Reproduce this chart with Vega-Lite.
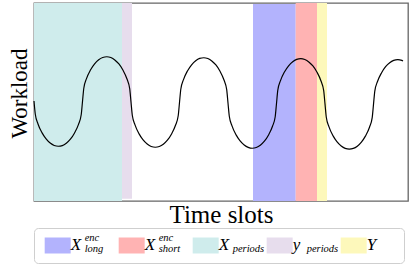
{
  "$schema": "https://vega.github.io/schema/vega-lite/v6.json",
  "padding": {"left": 7, "top": 2, "right": 2, "bottom": 0},
  "autosize": {"type": "pad"},
  "background": "white",
  "config": {
    "view": {"stroke": null},
    "font": "Liberation Serif",
    "axis": {"titleFont": "Liberation Serif", "titleFontWeight": "normal", "titleColor": "black", "labels": false, "ticks": false, "domain": false, "grid": false}
  },
  "spacing": -2,
  "vconcat": [
    {
      "width": 374,
      "height": 198,
      "view": {"stroke": "#666666", "strokeWidth": 1.3},
      "layer": [
        {
          "data": {"values": [
            {"key": "X_periods", "start": 0, "end": 88, "lo": -1, "hi": 1},
            {"key": "y_periods", "start": 88, "end": 98, "lo": -0.977, "hi": 1},
            {"key": "X_long", "start": 219, "end": 261.7, "lo": -1, "hi": 0.99},
            {"key": "X_short", "start": 261.7, "end": 283, "lo": -1, "hi": 1},
            {"key": "Y", "start": 283, "end": 293, "lo": -1, "hi": 1}
          ]},
          "mark": {"type": "rect", "opacity": 1},
          "encoding": {
            "x": {"field": "start", "type": "quantitative", "scale": {"domain": [0, 374], "nice": false, "zero": false}, "axis": {"title": "Time slots", "titleFontSize": 25, "titlePadding": 1}},
            "x2": {"field": "end"},
            "y": {"field": "lo", "type": "quantitative", "scale": {"domain": [-1, 1], "nice": false, "zero": false}, "axis": {"title": "Workload", "titleFontSize": 23, "titlePadding": 3, "titleY": 90}},
            "y2": {"field": "hi"},
            "color": {"field": "key", "type": "nominal", "legend": null,
              "scale": {"domain": ["X_long", "X_short", "X_periods", "y_periods", "Y"], "range": ["#b3b3fd", "#ffb3b3", "#cfecec", "#e7dded", "#fdf8bb"]}}
          }
        },
        {
          "data": {"values": [
            {"t": 0, "w": 0.010}, {"t": 1.3, "w": -0.124}, {"t": 4.0, "w": -0.222}, {"t": 8.1, "w": -0.312}, {"t": 12.1, "w": -0.373}, {"t": 16.2, "w": -0.415}, {"t": 20.2, "w": -0.439}, {"t": 24.3, "w": -0.447}, {"t": 28.3, "w": -0.440}, {"t": 32.3, "w": -0.416}, {"t": 36.4, "w": -0.376}, {"t": 40.4, "w": -0.315}, {"t": 44.5, "w": -0.226}, {"t": 47.2, "w": -0.129}, {"t": 48.5, "w": 0.005}, {"t": 49.8, "w": 0.139}, {"t": 52.5, "w": 0.236}, {"t": 56.6, "w": 0.326}, {"t": 60.6, "w": 0.386}, {"t": 64.7, "w": 0.427}, {"t": 68.7, "w": 0.450}, {"t": 72.8, "w": 0.457}, {"t": 76.8, "w": 0.449}, {"t": 80.8, "w": 0.425}, {"t": 84.9, "w": 0.384}, {"t": 88.9, "w": 0.323}, {"t": 93.0, "w": 0.232}, {"t": 95.7, "w": 0.135},
            {"t": 97.0, "w": 0.000}, {"t": 98.3, "w": -0.134}, {"t": 101.0, "w": -0.231}, {"t": 105.1, "w": -0.322}, {"t": 109.1, "w": -0.383}, {"t": 113.2, "w": -0.424}, {"t": 117.2, "w": -0.449}, {"t": 121.3, "w": -0.457}, {"t": 125.3, "w": -0.449}, {"t": 129.3, "w": -0.426}, {"t": 133.4, "w": -0.386}, {"t": 137.4, "w": -0.325}, {"t": 141.5, "w": -0.235}, {"t": 144.2, "w": -0.139}, {"t": 145.5, "w": -0.005}, {"t": 146.8, "w": 0.129}, {"t": 149.5, "w": 0.226}, {"t": 153.6, "w": 0.316}, {"t": 157.6, "w": 0.376}, {"t": 161.7, "w": 0.417}, {"t": 165.7, "w": 0.440}, {"t": 169.8, "w": 0.447}, {"t": 173.8, "w": 0.439}, {"t": 177.8, "w": 0.415}, {"t": 181.9, "w": 0.374}, {"t": 185.9, "w": 0.313}, {"t": 190.0, "w": 0.222}, {"t": 192.7, "w": 0.125},
            {"t": 194.0, "w": -0.010}, {"t": 195.3, "w": -0.144}, {"t": 198.0, "w": -0.241}, {"t": 202.1, "w": -0.332}, {"t": 206.1, "w": -0.393}, {"t": 210.2, "w": -0.434}, {"t": 214.2, "w": -0.458}, {"t": 218.3, "w": -0.467}, {"t": 222.3, "w": -0.459}, {"t": 226.3, "w": -0.436}, {"t": 230.4, "w": -0.396}, {"t": 234.4, "w": -0.335}, {"t": 238.5, "w": -0.245}, {"t": 241.2, "w": -0.149}, {"t": 242.5, "w": -0.015}, {"t": 243.8, "w": 0.120}, {"t": 246.5, "w": 0.216}, {"t": 250.6, "w": 0.306}, {"t": 254.6, "w": 0.366}, {"t": 258.7, "w": 0.407}, {"t": 262.7, "w": 0.430}, {"t": 266.8, "w": 0.438}, {"t": 270.8, "w": 0.429}, {"t": 274.8, "w": 0.405}, {"t": 278.9, "w": 0.364}, {"t": 282.9, "w": 0.303}, {"t": 287.0, "w": 0.212}, {"t": 289.7, "w": 0.115},
            {"t": 291.0, "w": -0.019}, {"t": 292.3, "w": -0.154}, {"t": 295.0, "w": -0.251}, {"t": 299.1, "w": -0.342}, {"t": 303.1, "w": -0.403}, {"t": 307.2, "w": -0.444}, {"t": 311.2, "w": -0.468}, {"t": 315.3, "w": -0.476}, {"t": 319.3, "w": -0.469}, {"t": 323.3, "w": -0.446}, {"t": 327.4, "w": -0.405}, {"t": 331.4, "w": -0.345}, {"t": 335.5, "w": -0.255}, {"t": 338.2, "w": -0.158}, {"t": 339.5, "w": -0.024}, {"t": 340.8, "w": 0.110}, {"t": 343.5, "w": 0.207}, {"t": 347.6, "w": 0.296}, {"t": 351.6, "w": 0.357}, {"t": 355.7, "w": 0.397}, {"t": 359.7, "w": 0.420}, {"t": 363.8, "w": 0.428}, {"t": 367.8, "w": 0.420}, {"t": 369.0, "w": 0.414}
          ]},
          "mark": {"type": "line", "interpolate": "monotone", "color": "black", "strokeWidth": 1.2},
          "encoding": {
            "x": {"field": "t", "type": "quantitative", "scale": {"domain": [0, 374], "nice": false, "zero": false}, "axis": {"title": "Time slots", "titleFontSize": 25, "titlePadding": 1}},
            "y": {"field": "w", "type": "quantitative", "scale": {"domain": [-1, 1], "nice": false, "zero": false}, "axis": {"title": "Workload", "titleFontSize": 23, "titlePadding": 3, "titleY": 90}}
          }
        }
      ]
    },
    {
      "width": 370,
      "height": 35,
      "view": {"stroke": "#cfcfcf", "strokeWidth": 1, "fill": "white", "cornerRadius": 4},
      "data": {"values": [
        {"key": "X_long", "main": "X", "sup": "enc", "sub": "long"},
        {"key": "X_short", "main": "X", "sup": "enc", "sub": "short"},
        {"key": "X_periods", "main": "X", "sup": "", "sub": "periods"},
        {"key": "y_periods", "main": "y", "sup": "", "sub": "periods"},
        {"key": "Y", "main": "Y", "sup": "", "sub": ""}
      ]},
      "encoding": {
        "x": {"field": "key", "type": "nominal", "sort": null, "axis": null,
          "scale": {"type": "point", "domain": ["X_long", "X_short", "X_periods", "y_periods", "Y"], "paddingOuter": 0.336, "align": 0.32}}
      },
      "layer": [
        {
          "mark": {"type": "point", "shape": "M-1,-0.615H1V0.615H-1Z", "size": 676, "filled": true, "opacity": 1, "strokeWidth": 0},
          "encoding": {
            "color": {"field": "key", "type": "nominal", "legend": null,
              "scale": {"domain": ["X_long", "X_short", "X_periods", "y_periods", "Y"], "range": ["#b3b3fd", "#ffb3b3", "#cfecec", "#e7dded", "#fdf8bb"]}}
          }
        },
        {
          "mark": {"type": "text", "align": "left", "baseline": "alphabetic", "dx": 13, "dy": 4, "fontSize": 17, "fontStyle": "italic", "font": "Liberation Serif", "color": "black"},
          "encoding": {"text": {"field": "main"}}
        },
        {
          "mark": {"type": "text", "align": "left", "baseline": "alphabetic", "dx": 27, "dy": -4.5, "fontSize": 10.5, "fontStyle": "italic", "font": "Liberation Serif", "color": "black"},
          "encoding": {"text": {"field": "sup"}}
        },
        {
          "mark": {"type": "text", "align": "left", "baseline": "alphabetic", "dx": 27, "dy": 6.5, "fontSize": 10.5, "fontStyle": "italic", "font": "Liberation Serif", "color": "black"},
          "encoding": {"text": {"field": "sub"}}
        }
      ]
    }
  ]
}
